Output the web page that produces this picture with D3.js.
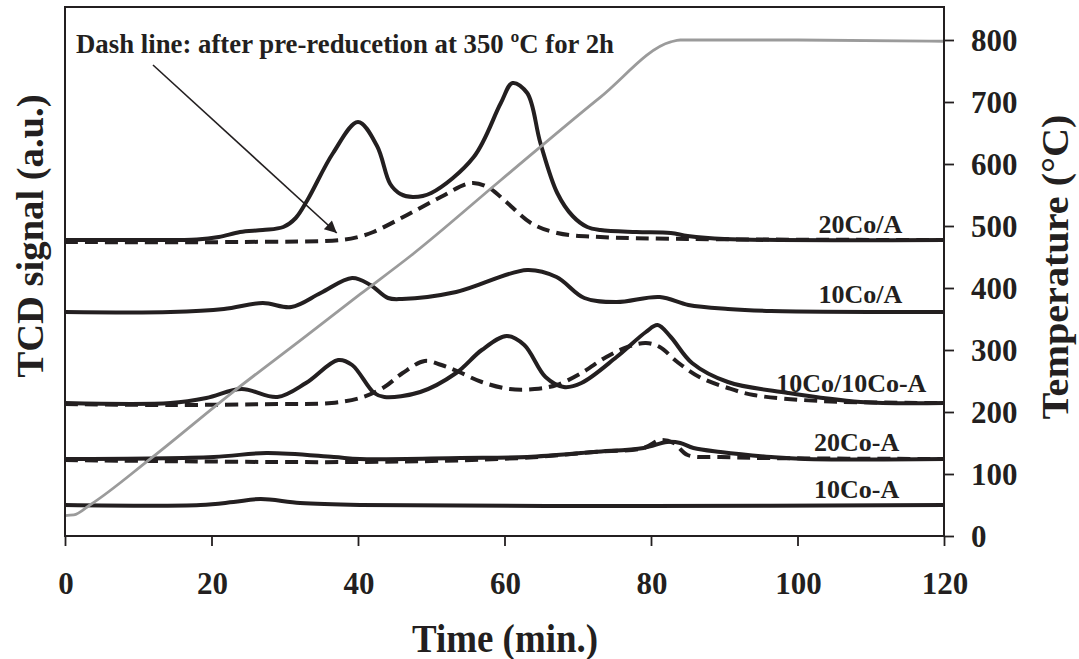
<!DOCTYPE html>
<html>
<head>
<meta charset="utf-8">
<script src="https://cdn.jsdelivr.net/npm/d3@7"></script>
<style>
  html, body { margin: 0; padding: 0; background: #fff; }
  svg { display: block; }
  text { font-family: "Liberation Serif", "Times New Roman", serif; font-weight: bold; fill: #231f20; }
</style>
</head>
<body>
<svg id="chart" width="1079" height="659"></svg>
<script>
// ---------- data ----------
// time (min) values, TCD signal in arbitrary units (stacked offsets included)
const time20CoA_solid = [0,10,18,21,23.9,27,29.8,31.5,33.1,36.6,40,42.6,44.4,45.8,47.5,50,55.8,59.5,61.1,63.1,64.9,67.2,69.3,71.3,73.1,78,82.7,85,90,120];
const tcd20CoA_solid  = [29.6,29.6,29.65,29.9,30.4,30.6,30.9,31.8,33.6,38.3,41.4,39.0,35.2,34.2,33.9,34.3,37.9,43.3,45.3,44.3,39.3,34.3,32.0,30.9,30.6,30.4,30.3,30.0,29.7,29.6];

const time20CoA_dash = [0,23.9,37.6,40,42.1,46.7,51.3,55.4,57.7,60.4,63.6,67.2,73.1,85,120];
const tcd20CoA_dash  = [29.4,29.4,29.6,29.9,30.4,32.1,33.9,35.3,34.9,33.3,31.3,30.3,29.9,29.7,29.6];

const time10CoA_solid = [0,14.4,21.7,27,30.9,34.9,39.2,41.7,44.1,46,53.4,63.1,67.1,70.9,75.3,81.2,85.1,90.5,96.4,120];
const tcd10CoA_solid  = [22.4,22.4,22.7,23.3,22.9,24.3,25.8,25.1,23.8,23.7,24.4,26.6,25.9,23.8,23.4,23.9,23.1,22.7,22.5,22.4];

const time10Co10CoA_solid = [0,14.4,19.3,24.1,29,32.9,37.3,39.2,42.2,43.6,48.5,53.4,56.9,60.3,62.7,65.6,68.1,70.5,75.3,79.3,80.9,82.7,85.6,90.5,98.7,108.6,120];
const tcd10Co10CoA_solid  = [13.3,13.3,13.8,14.7,13.9,15.3,17.6,17.1,14.3,13.9,14.4,16.3,18.6,20.0,19.1,15.9,14.9,15.3,17.9,20.4,21.1,19.9,17.3,15.4,14.3,13.4,13.3];

const time10Co10CoA_dash = [0,14.4,29,36.4,40.7,43.6,46.1,49.1,51.4,53.8,56.9,60.7,64.1,67.1,70.5,73.9,76.8,79.3,81.2,83.6,86.6,90.5,94,103,120];
const tcd10Co10CoA_dash  = [13.2,13.1,13.2,13.3,13.9,14.9,16.3,17.5,17.1,16.4,15.4,14.7,14.7,15.1,16.3,17.9,18.9,19.3,18.9,17.4,15.9,14.8,14.1,13.5,13.3];

const time20CoA2_solid = [0,20.3,27.5,36.7,40.3,54,63.1,72.2,79,82.2,84,85.8,89.5,96.4,101,120];
const tcd20CoA2_solid  = [7.7,7.9,8.3,7.9,7.7,7.8,7.9,8.4,8.8,9.4,9.3,8.8,8.4,7.9,7.7,7.7];

const time20CoA2_dash = [0,40.3,62.2,72.2,79,81.3,83.1,85,89.5,95,120];
const tcd20CoA2_dash  = [7.6,7.4,7.8,8.4,8.8,9.6,9.3,8.1,7.9,7.8,7.7];

const time10CoA2_solid = [0,18.5,23,26.7,32.1,40.3,80,120];
const tcd10CoA2_solid  = [3.1,3.1,3.4,3.7,3.3,3.1,3.0,3.1];

// temperature program
const timeTemp = [0,1.2,3.4,11.6,23,32.4,40.3,47.2,59.4,73.1,82.7,84,100,120];
const tempC    = [33,34,50,124,233,318,390,452,573,708,797,800,800,798];

const xTicks = [0,20,40,60,80,100,120];
const tempTicks = [0,100,200,300,400,500,600,700,800];
const sampleLabels = ["20Co/A","10Co/A","10Co/10Co-A","20Co-A","10Co-A"];
const annotationText = "Dash line: after pre-reducetion at 350 \u00BAC for 2h";
const xTitle = "Time (min.)";
const yTitle = "TCD signal (a.u.)";
const y2Title = "Temperature (\u00B0C)";

// ---------- layout ----------
const L = 65, R = 944, T = 7, B = 536;
const svg = d3.select("#chart");
const ink = "#231f20";

const x = d3.scaleLinear().domain([0,120]).range([L,R]);
const y = d3.scaleLinear().domain([0,52.9]).range([B,T]);
const yT = d3.scaleLinear().domain([0,800]).range([B,40]);

const zip = (a,b) => a.map((v,i)=>[v,b[i]]);
const line = d3.line().x(d=>x(d[0])).y(d=>y(d[1])).curve(d3.curveCatmullRom.alpha(0.5));
const lineT = d3.line().x(d=>x(d[0])).y(d=>yT(d[1])).curve(d3.curveMonotoneX);

const series = [
  {t: time20CoA_dash, v: tcd20CoA_dash, dash: true},
  {t: time20CoA_solid, v: tcd20CoA_solid, dash: false},
  {t: time10CoA_solid, v: tcd10CoA_solid, dash: false},
  {t: time10Co10CoA_dash, v: tcd10Co10CoA_dash, dash: true},
  {t: time10Co10CoA_solid, v: tcd10Co10CoA_solid, dash: false},
  {t: time20CoA2_dash, v: tcd20CoA2_dash, dash: true},
  {t: time20CoA2_solid, v: tcd20CoA2_solid, dash: false},
  {t: time10CoA2_solid, v: tcd10CoA2_solid, dash: false}
];

const g = svg.append("g");
g.selectAll("path.tcd").data(series).join("path")
  .attr("class","tcd")
  .attr("d", d => line(zip(d.t, d.v)))
  .attr("fill","none")
  .attr("stroke", ink)
  .attr("stroke-width", 4)
  .attr("stroke-linejoin","round")
  .attr("stroke-dasharray", d => d.dash ? "13,7" : null);

// temperature line
g.append("path")
  .attr("d", lineT(zip(timeTemp, tempC)))
  .attr("fill","none")
  .attr("stroke","#9b9b9b")
  .attr("stroke-width",2.8);

// frame
svg.append("rect").attr("x",L).attr("y",T).attr("width",R-L).attr("height",B-T)
  .attr("fill","none").attr("stroke",ink).attr("stroke-width",2);

// bottom axis
const xAxis = d3.axisBottom(x).tickValues(xTicks).tickSize(10).tickFormat("");
const gx = svg.append("g").attr("transform",`translate(0,${B})`).call(xAxis);
gx.select(".domain").remove();
gx.selectAll("line").attr("stroke",ink).attr("stroke-width",1.8);
svg.selectAll("text.xt").data(xTicks).join("text").attr("class","xt")
  .attr("x", d=>x(d)+1).attr("y",594).attr("text-anchor","middle")
  .style("font-size","31px").text(d=>d);

// right axis
const yAxisR = d3.axisRight(yT).tickValues(tempTicks).tickSize(10).tickFormat("");
const gy = svg.append("g").attr("transform",`translate(${R},0)`).call(yAxisR);
gy.select(".domain").remove();
gy.selectAll("line").attr("stroke",ink).attr("stroke-width",1.8);
svg.selectAll("text.yt").data(tempTicks).join("text").attr("class","yt")
  .attr("x",971).attr("y",d=>yT(d)).attr("dy","0.35em")
  .style("font-size","31px").text(d=>d);

// titles
svg.append("text").attr("x",505).attr("y",652).attr("text-anchor","middle")
  .attr("textLength",186).attr("lengthAdjust","spacingAndGlyphs")
  .style("font-size","39px").text(xTitle);
svg.append("text").attr("transform","translate(43,236) rotate(-90)").attr("text-anchor","middle")
  .attr("textLength",283).attr("lengthAdjust","spacingAndGlyphs")
  .style("font-size","38px").text(yTitle);
svg.append("text").attr("transform","translate(1068,267) rotate(-90)").attr("text-anchor","middle")
  .attr("textLength",305).attr("lengthAdjust","spacingAndGlyphs")
  .style("font-size","38px").text(y2Title);

// sample labels (placed near the right end of each baseline)
const labelBase = [tcd20CoA_solid, tcd10CoA_solid, tcd10Co10CoA_solid, tcd20CoA2_solid, tcd10CoA2_solid];
const labelRight = [114.3, 114.3, 117.6, 113.9, 113.9];
const labelLift = [0.7, 0.9, 1.1, 0.8, 0.7];
svg.selectAll("text.lab").data(sampleLabels).join("text").attr("class","lab")
  .attr("x",(d,i)=>x(labelRight[i]))
  .attr("y",(d,i)=>y(labelBase[i][labelBase[i].length-1] + labelLift[i]))
  .attr("text-anchor","end")
  .style("font-size","26px").text(d=>d);

// annotation
svg.append("text").attr("x",76).attr("y",53)
  .attr("textLength",538).attr("lengthAdjust","spacingAndGlyphs")
  .style("font-size","28px").text(annotationText);

const defs = svg.append("defs");
defs.append("marker").attr("id","arrow").attr("viewBox","0 0 10 10")
  .attr("refX",10).attr("refY",5).attr("markerWidth",14).attr("markerHeight",12)
  .attr("markerUnits","userSpaceOnUse").attr("orient","auto")
  .append("path").attr("d","M0,0 L10,5 L0,10 z").attr("fill",ink);
// arrow from annotation text to the dashed 20Co/A curve
svg.append("line")
  .attr("x1",153).attr("y1",65)
  .attr("x2",x(37.1)).attr("y2",233)
  .attr("stroke",ink).attr("stroke-width",1.6)
  .attr("marker-end","url(#arrow)");
</script>
</body>
</html>
